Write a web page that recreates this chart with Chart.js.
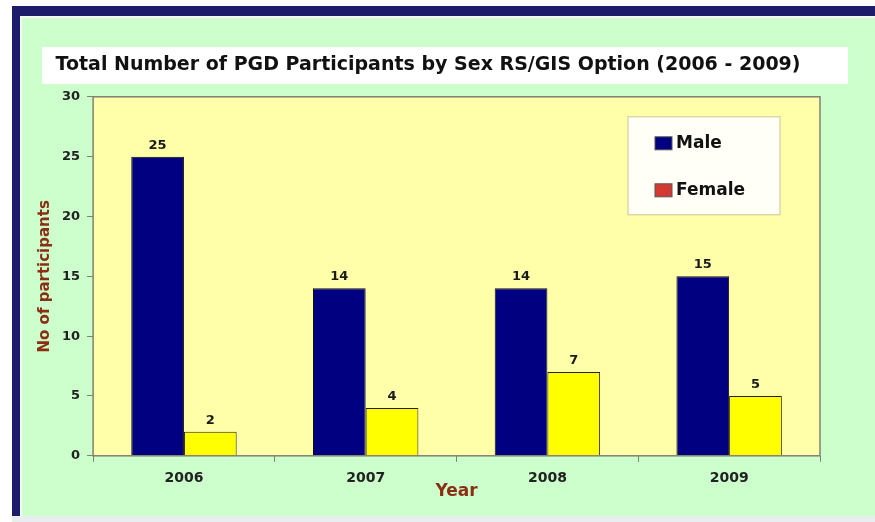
<!DOCTYPE html>
<html>
<head>
<meta charset="utf-8">
<script src="https://cdn.jsdelivr.net/npm/chart.js@4/dist/chart.umd.min.js"></script>
<style>
  html, body { margin: 0; padding: 0; background: #fff; }
  #wrap { position: relative; width: 875px; height: 522px; overflow: hidden; }
  #frame {
    position: absolute; left: 12px; top: 6px; width: 900px; height: 512px;
    background: #1c1c6a;
  }
  #inner {
    position: absolute; left: 8px; top: 10px; right: 0; bottom: 2px;
    background: #CCFFCC; border-left: 2px solid #f4f8f4; border-top: 2px solid #f4f8f4;
  }
  #bottomLine { position: absolute; left: 12px; top: 516px; width: 900px; height: 6px; background: #e8eef0; }
  canvas { position: absolute; left: 0; top: 0; }
</style>
</head>
<body>
<div id="wrap">
  <div id="frame"><div id="inner"></div></div>
  <div id="bottomLine"></div>
  <canvas id="chart" width="875" height="522"></canvas>
</div>
<script>
// --- Data ---
const years = ['2006', '2007', '2008', '2009'];
const male = [25, 14, 14, 15];
const female = [2, 4, 7, 5];
const yTicks = [0, 5, 10, 15, 20, 25, 30];
const seriesNames = ['Male', 'Female'];
const legendColors = ['#000080', '#D33A32'];

const FONT = "'DejaVu Sans', Arial, sans-serif";

// Background pieces: title box and yellow plot area
const backdrop = {
  id: 'backdrop',
  beforeDraw(chart) {
    const ctx = chart.ctx;
    const a = chart.chartArea;
    ctx.save();
    ctx.fillStyle = '#ffffff';
    ctx.fillRect(42, 47, 806, 37);
    ctx.fillStyle = '#FFFFAA';
    ctx.fillRect(a.left, a.top, a.right - a.left, a.bottom - a.top);
    ctx.restore();
  },
  afterDatasetsDraw(chart) {
    const ctx = chart.ctx;
    const a = chart.chartArea;
    ctx.save();
    ctx.strokeStyle = '#808070';
    ctx.lineWidth = 1.5;
    ctx.strokeRect(a.left, a.top, a.right - a.left, a.bottom - a.top);

    // value labels above bars
    ctx.fillStyle = '#1a1a1a';
    ctx.font = 'bold 13px ' + FONT;
    ctx.textAlign = 'center';
    ctx.textBaseline = 'bottom';
    chart.data.datasets.forEach((ds, i) => {
      chart.getDatasetMeta(i).data.forEach((bar, j) => {
        ctx.fillText(ds.data[j], bar.x, bar.y - 5);
      });
    });

    // legend box inside the plot
    const lx = a.right - 192, ly = a.top + 20;
    ctx.fillStyle = '#FFFFF8';
    ctx.fillRect(lx, ly, 152, 98);
    ctx.strokeStyle = '#c8c890';
    ctx.lineWidth = 1;
    ctx.strokeRect(lx, ly, 152, 98);
    ctx.font = 'bold 17px ' + FONT;
    ctx.textAlign = 'left';
    ctx.textBaseline = 'middle';
    seriesNames.forEach((name, i) => {
      const cy = ly + 27 + i * 47;
      ctx.fillStyle = legendColors[i];
      ctx.fillRect(lx + 27, cy - 7, 17, 13);
      ctx.strokeStyle = '#555';
      ctx.strokeRect(lx + 27, cy - 7, 17, 13);
      ctx.fillStyle = '#111';
      ctx.fillText(name, lx + 48, cy);
    });
    ctx.restore();
  }
};

new Chart(document.getElementById('chart'), {
  type: 'bar',
  data: {
    labels: years,
    datasets: [
      { label: seriesNames[0], data: male, backgroundColor: '#000080', borderColor: '#111', borderWidth: 1 },
      { label: seriesNames[1], data: female, backgroundColor: '#FFFF00', borderColor: '#222', borderWidth: 1 }
    ]
  },
  options: {
    responsive: false,
    animation: false,
    categoryPercentage: 0.58,
    barPercentage: 1.0,
    layout: { padding: { left: 36, right: 55, top: 0, bottom: 20 } },
    plugins: {
      legend: { display: false },
      tooltip: { enabled: false },
      title: {
        display: true,
        text: 'Total Number of PGD Participants by Sex RS/GIS Option (2006 - 2009)',
        color: '#111',
        font: { family: FONT, size: 19, weight: 'bold' },
        padding: { top: 54, bottom: 20 }
      }
    },
    scales: {
      x: {
        grid: { display: true, drawOnChartArea: false, drawTicks: true, tickLength: 6, color: '#808070', offset: true },
        border: { display: false },
        ticks: { color: '#222', padding: 8, font: { family: FONT, size: 14, weight: 'bold' } },
        title: {
          display: true, text: 'Year', color: '#8B2F12',
          font: { family: FONT, size: 17, weight: 'bold' },
          padding: { top: -13, bottom: 0 }
        }
      },
      y: {
        min: 0,
        max: 30,
        afterBuildTicks(scale) { scale.ticks = yTicks.map(v => ({ value: v })); },
        grid: { display: true, drawOnChartArea: false, drawTicks: true, tickLength: 6, color: '#808070' },
        border: { display: false },
        ticks: { color: '#222', padding: 7, font: { family: FONT, size: 13, weight: 'bold' } },
        title: {
          display: true, text: 'No of participants', color: '#8B2F12',
          font: { family: FONT, size: 15, weight: 'bold' },
          padding: { top: 0, bottom: 1 }
        }
      }
    }
  },
  plugins: [backdrop]
});
</script>
</body>
</html>
